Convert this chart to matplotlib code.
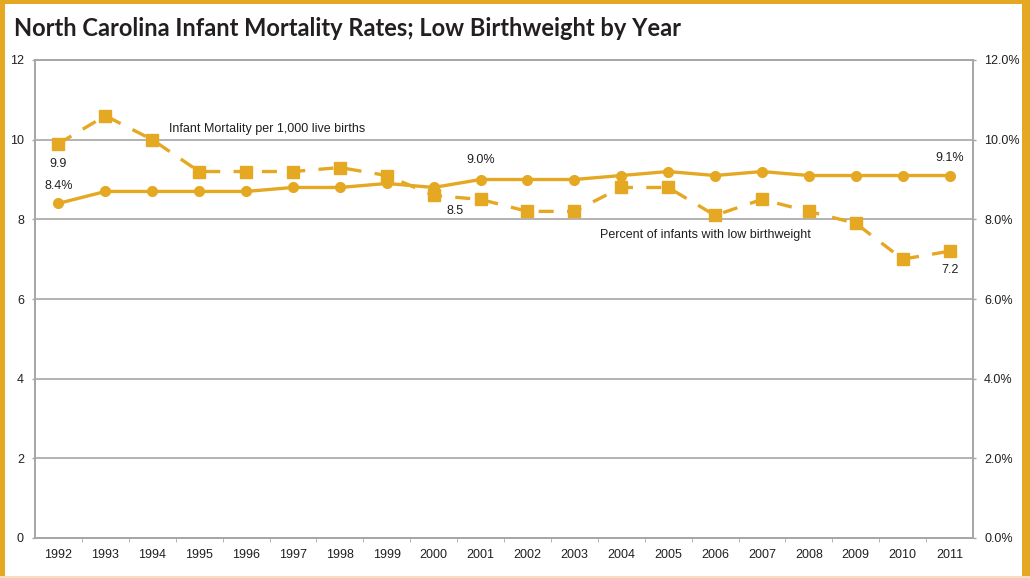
import matplotlib.pyplot as plt
from matplotlib.patches import Rectangle

years = list(range(1992, 2012))
infant_mortality = [9.9, 10.6, 10.0, 9.2, 9.2, 9.2, 9.3, 9.1, 8.6, 8.5,
                    8.2, 8.2, 8.8, 8.8, 8.1, 8.5, 8.2, 7.9, 7.0, 7.2]
low_birthweight = [8.4, 8.7, 8.7, 8.7, 8.7, 8.8, 8.8, 8.9, 8.8, 9.0,
                   9.0, 9.0, 9.1, 9.2, 9.1, 9.2, 9.1, 9.1, 9.1, 9.1]
left_ticks = [0, 2, 4, 6, 8, 10, 12]
right_labels = ["0.0%", "2.0%", "4.0%", "6.0%", "8.0%", "10.0%", "12.0%"]

gold = "#E5A823"
grey = "#A6A6A6"
narrow = ["Liberation Sans Narrow", "Liberation Sans", "DejaVu Sans"]

fig = plt.figure(figsize=(10.3, 5.78), dpi=100)
W, H = 1030, 578

# gold frame
fig.patches.append(Rectangle((0, 0), 5 / W, 1, transform=fig.transFigure,
                             facecolor=gold, edgecolor="none"))
fig.patches.append(Rectangle((0, 1 - 4 / H), 1, 4 / H, transform=fig.transFigure,
                             facecolor=gold, edgecolor="none"))
fig.patches.append(Rectangle((1022 / W, 0), 8 / W, 1, transform=fig.transFigure,
                             facecolor=gold, edgecolor="none"))
fig.patches.append(Rectangle((0, 0), 1, 2 / H, transform=fig.transFigure,
                             facecolor="#F3E2B8", edgecolor="none"))

fig.text(14 / W, 1 - 28 / H, "North Carolina Infant Mortality Rates; Low Birthweight by Year",
         fontsize=17, fontweight="bold", color="#231F20", va="center", ha="left",
         family=["Lato", "DejaVu Sans"])

ax = fig.add_axes([35 / W, 40 / H, (973 - 35) / W, (538 - 60) / H])
ax2 = ax.twinx()

ax.plot(years, infant_mortality, color=gold, lw=2.4, ls=(0, (4.5, 4)),
        marker="s", ms=8, mec=gold, mfc=gold, zorder=3)
ax2.plot(years, low_birthweight, color=gold, lw=2.4, ls="-",
         marker="o", ms=7, mec=gold, mfc=gold, zorder=3)

ax.set_xlim(1991.5, 2011.5)
ax.set_ylim(0, 12)
ax2.set_ylim(0, 12)
ax.set_yticks(left_ticks)
ax.set_yticklabels([str(t) for t in left_ticks])
ax2.set_yticks(left_ticks)
ax2.set_yticklabels(right_labels)
ax.set_xticks(years)
ax.set_xticklabels([str(y) for y in years])
ax.set_xticks([y + 0.5 for y in years[:-1]], minor=True)

for a in (ax, ax2):
    for s in a.spines.values():
        s.set_color(grey)
        s.set_linewidth(1.2)
    a.tick_params(colors=grey, labelcolor="#231F20", labelsize=9, width=1,
                  length=2.5, pad=5.5)
    for lab in a.get_xticklabels() + a.get_yticklabels():
        lab.set_family(narrow)
ax.tick_params(axis="x", which="major", length=0, pad=8)
ax.tick_params(axis="x", which="minor", length=3, color=grey)
ax.yaxis.grid(True, color=grey, lw=1.2)
ax.set_axisbelow(True)

txt = dict(fontsize=9, color="#231F20", family=narrow, ha="center", va="center")
ax.text(1992, 9.4, "9.9", **txt)
ax.text(1992, 8.84, "8.4%", **txt)
ax.text(2001, 9.48, "9.0%", **txt)
ax.text(2000.45, 8.2, "8.5", **txt)
ax.text(2011, 9.55, "9.1%", **txt)
ax.text(2011, 6.72, "7.2", **txt)
ax.text(1994.35, 10.27, "Infant Mortality per 1,000 live births", **dict(txt, ha="left"))
ax.text(2003.55, 7.61, "Percent of infants with low birthweight", **dict(txt, ha="left"))

fig.savefig("out.png", dpi=100)
